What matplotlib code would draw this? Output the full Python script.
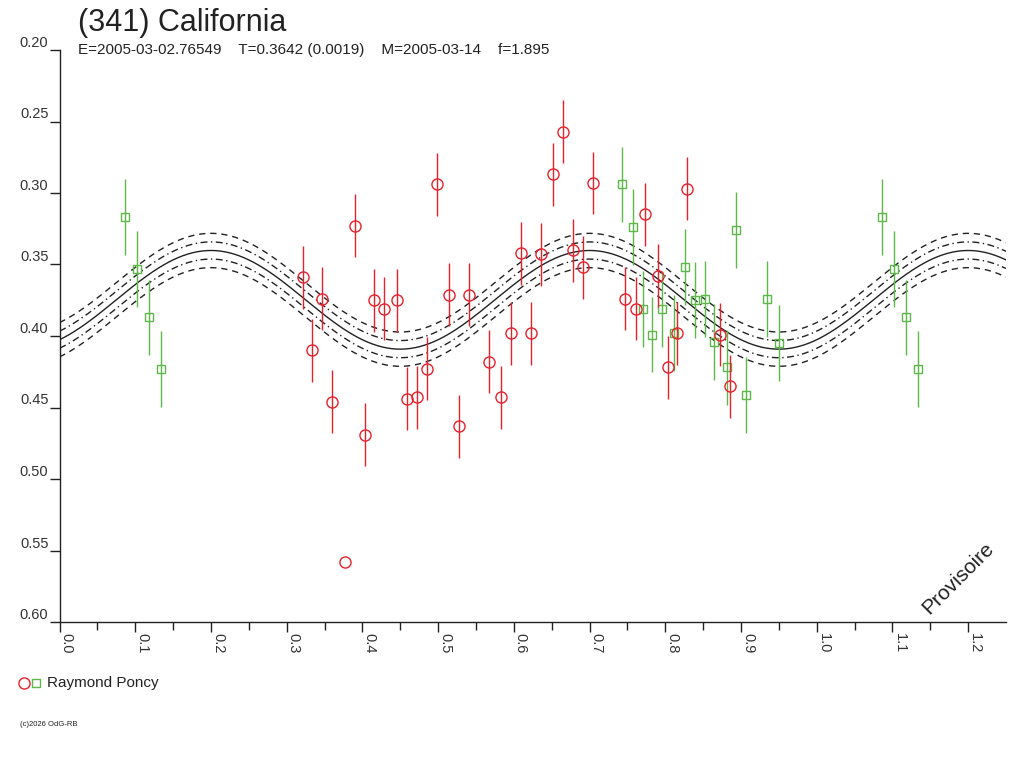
import numpy as np
import matplotlib
matplotlib.use("Agg")
import matplotlib.pyplot as plt
from matplotlib.lines import Line2D

plt.rcParams['font.family'] = ['Liberation Sans', 'DejaVu Sans']

# observations, Raymond Poncy - two sessions (red circles, green squares)
red_phase = [0.321, 0.334, 0.347, 0.360, 0.377, 0.390, 0.403, 0.416, 0.429, 0.446,
             0.459, 0.472, 0.485, 0.498, 0.514, 0.527, 0.541, 0.567, 0.583, 0.596,
             0.610, 0.623, 0.636, 0.652, 0.665, 0.678, 0.692, 0.704, 0.747, 0.761,
             0.773, 0.790, 0.803, 0.816, 0.829, 0.872, 0.885]
red_mag = [0.359, 0.410, 0.374, 0.446, 0.558, 0.323, 0.469, 0.375, 0.381, 0.375,
           0.444, 0.443, 0.423, 0.294, 0.371, 0.463, 0.371, 0.418, 0.443, 0.398,
           0.342, 0.398, 0.343, 0.287, 0.257, 0.340, 0.352, 0.293, 0.374, 0.381,
           0.315, 0.358, 0.422, 0.398, 0.297, 0.399, 0.435]
red_err = [0.022] * 37
red_err[4] = 0.0

green_phase = [0.086, 0.102, 0.118, 0.134, 0.743, 0.757, 0.770, 0.783, 0.796, 0.812,
               0.826, 0.839, 0.852, 0.865, 0.881, 0.894, 0.907, 0.934, 0.950]
green_mag = [0.317, 0.353, 0.387, 0.423, 0.294, 0.324, 0.381, 0.399, 0.381, 0.398,
             0.352, 0.375, 0.374, 0.404, 0.422, 0.326, 0.441, 0.374, 0.405]
green_err = [0.0265] * 19

# fitted model (2nd harmonic)
fit_mean = 0.3747
fit_amp = 0.0345
fit_peak = 0.200
band1 = 0.006
band2 = 0.012

yticks = [0.20, 0.25, 0.30, 0.35, 0.40, 0.45, 0.50, 0.55, 0.60]
xticks = [0.0, 0.1, 0.2, 0.3, 0.4, 0.5, 0.6, 0.7, 0.8, 0.9, 1.0, 1.1, 1.2]

RED = '#e8202a'
GREEN = '#5cb848'
INK = '#222222'


def wrap(ph, mag, err, xmax=1.25):
    ph = np.array(ph); mag = np.array(mag); err = np.array(err)
    m = ph + 1 <= xmax
    return (np.concatenate([ph, ph[m] + 1]), np.concatenate([mag, mag[m]]),
            np.concatenate([err, err[m]]))


fig = plt.figure(figsize=(10.24, 7.68), dpi=100)
ax = fig.add_axes([59.5 / 1024, 1 - 622 / 768, (1006 - 59.5) / 1024, (622 - 50) / 768])

ph = np.linspace(0, 1.25, 600)
model = fit_mean - fit_amp * np.cos(4 * np.pi * (ph - fit_peak))
ax.plot(ph, model, color=INK, lw=1.0)
for s in (-1, 1):
    ax.plot(ph, model + s * band1, color=INK, lw=1.0, dashes=(5, 2.5, 1, 2.5))
    ax.plot(ph, model + s * band2, color=INK, lw=1.0, dashes=(4.5, 3.5))

gx, gy, ge = wrap(green_phase, green_mag, green_err)
ax.errorbar(gx, gy, yerr=ge, fmt='none', ecolor=GREEN, elinewidth=1.0, capsize=0)
ax.plot(gx, gy, ls='none', marker='s', ms=5.5, mfc='none', mec=GREEN, mew=1.0)

rx, ry, re = wrap(red_phase, red_mag, red_err)
ax.errorbar(rx, ry, yerr=re, fmt='none', ecolor=RED, elinewidth=1.0, capsize=0)
ax.plot(rx, ry, ls='none', marker='o', ms=8, mfc='none', mec=RED, mew=1.0)

ax.set_xlim(0, 1.25)
ax.set_ylim(0.60, 0.20)
for sp in ('top', 'right'):
    ax.spines[sp].set_visible(False)
for sp in ('left', 'bottom'):
    ax.spines[sp].set_color(INK)
    ax.spines[sp].set_linewidth(1.0)

ax.set_yticks(yticks)
ax.set_yticklabels(['%.2f' % v for v in yticks])
ax.tick_params(axis='y', length=7, width=1, color=INK, pad=1, labelsize=10.5, labelcolor='#333333')
for lbl in ax.get_yticklabels():
    lbl.set_va('bottom')

ax.set_xticks(xticks)
ax.set_xticks(np.arange(0.05, 1.25, 0.1), minor=True)
ax.set_xticklabels(['%.1f' % v for v in xticks], rotation=-90, ha='left', va='top')
ax.tick_params(axis='x', which='major', length=7.2, width=1, color=INK, pad=1,
               labelsize=10.5, labelcolor='#333333')
ax.tick_params(axis='x', which='minor', length=5.8, width=1, color=INK)

fig.text(78 / 1024, 1 - 31 / 768, '(341) California', fontsize=22, color=INK, va='baseline')
fig.text(78 / 1024, 1 - 54 / 768,
         'E=2005-03-02.76549    T=0.3642 (0.0019)    M=2005-03-14    f=1.895',
         fontsize=11, color=INK, va='baseline')

ax.text(0.949, 0.077, 'Provisoire', transform=ax.transAxes, rotation=45,
        fontsize=15, color=INK, ha='center', va='center')

fig.add_artist(Line2D([24 / 1024], [1 - 683 / 768], marker='o', ms=8, mfc='none',
                      mec=RED, mew=1.0, ls='none', transform=fig.transFigure))
fig.add_artist(Line2D([36 / 1024], [1 - 683 / 768], marker='s', ms=5.5, mfc='none',
                      mec=GREEN, mew=1.0, ls='none', transform=fig.transFigure))
fig.text(47 / 1024, 1 - 683 / 768, 'Raymond Poncy', fontsize=11, color=INK, va='center')
fig.text(20 / 1024, 1 - 725 / 768, '(c)2026 OdG-RB', fontsize=5.5, color=INK, va='center')

fig.savefig('out.png', dpi=100, facecolor='white')
